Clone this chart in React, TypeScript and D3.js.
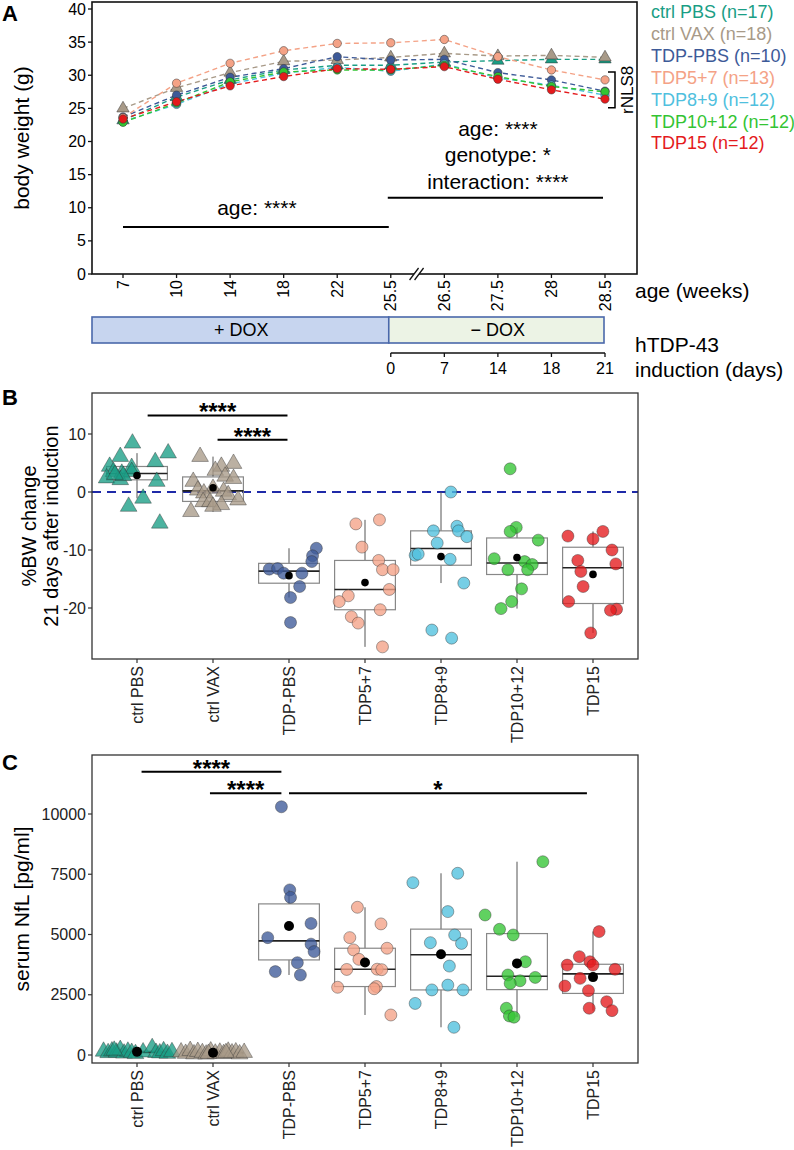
import React from 'react';
import * as d3 from 'd3';

// ---------- shared categories ----------
const groups = ['ctrl PBS', 'ctrl VAX', 'TDP-PBS', 'TDP5+7', 'TDP8+9', 'TDP10+12', 'TDP15'];
const groupN = [17, 18, 10, 13, 12, 12, 12];
const groupColors = ['#1a9e85', '#a89a88', '#3d5a98', '#f4a286', '#4fc0de', '#33c433', '#e41a1c'];
const groupShapes = ['triangle', 'triangle', 'circle', 'circle', 'circle', 'circle', 'circle'];

// ---------- panel A ----------
const weeks = ['7', '10', '14', '18', '22', '25.5', '26.5', '27.5', '28', '28.5'];
const yTicksA = [0, 5, 10, 15, 20, 25, 30, 35, 40];
const bwCtrlPBS = [23.2, 26.7, 29.3, 30.8, 31.5, 31.5, 32.0, 32.2, 32.4, 32.4];
const bwCtrlVAX = [25.0, 28.1, 30.4, 32.1, 32.3, 32.7, 33.3, 32.9, 33.0, 32.7];
const bwTdpPBS = [23.7, 27.0, 29.7, 31.0, 32.8, 32.3, 32.4, 30.4, 29.3, 27.6];
const bwTdp57 = [23.6, 28.8, 31.8, 33.7, 34.8, 34.9, 35.4, 32.8, 30.8, 29.3];
const bwTdp89 = [23.0, 25.6, 28.7, 30.3, 31.2, 30.6, 31.7, 29.6, 28.5, 27.0];
const bwTdp1012 = [22.9, 25.8, 29.0, 30.5, 30.8, 30.8, 31.5, 29.8, 28.3, 27.5];
const bwTdp15 = [23.4, 26.0, 28.4, 29.8, 31.0, 30.9, 31.3, 29.4, 27.8, 26.4];
const bwSeries = [bwCtrlPBS, bwCtrlVAX, bwTdpPBS, bwTdp57, bwTdp89, bwTdp1012, bwTdp15];
const drawOrderA = [0, 1, 2, 3, 4, 5, 6];
const inductionDays = ['0', '7', '14', '18', '21'];
const inductionWeeks = ['25.5', '26.5', '27.5', '28', '28.5'];
const annotLeftY = 7.1;
const annotRightY = 11.5;
const annotRightLines = ['age: ****', 'genotype: *', 'interaction: ****'];

// ---------- panel B: %BW change [value, jitter] ----------
const bwcCtrlPBS = [[8.4, -0.06], [6.7, 0.41], [6.1, -0.22], [5.2, 0.24], [4.2, -0.07], [4.4, -0.36], [3.5, -0.31], [3.2, -0.2], [3.5, -0.07], [2.4, -0.4], [2.1, -0.22], [1.8, 0.26], [2.8, -0.18], [-1.1, 0.08], [-2.5, -0.11], [-5.4, 0.3], [3.0, -0.29]];
const bwcCtrlVAX = [[6.1, -0.17], [4.9, 0.27], [4.4, 0.11], [3.7, 0.03], [2.7, 0.16], [2.3, 0.27], [1.8, -0.26], [0.6, 0.0], [0.3, -0.2], [0.1, 0.14], [-0.2, -0.12], [-0.5, 0.2], [-1.4, 0.33], [-1.7, -0.13], [-1.7, -0.04], [-2.2, 0.11], [-2.5, 0.0], [-3.4, -0.29]];
const bwcTdpPBS = [[-9.7, 0.36], [-11.0, 0.31], [-12.0, 0.3], [-13.3, -0.26], [-13.2, -0.15], [-14.0, -0.07], [-14.0, 0.17], [-16.3, 0.14], [-18.2, 0.02], [-22.5, 0.02]];
const bwcTdp57 = [[-5.5, -0.12], [-4.8, 0.19], [-9.5, -0.04], [-11.8, 0.18], [-13.4, 0.23], [-13.4, 0.37], [-16.8, 0.32], [-17.9, -0.22], [-18.9, -0.34], [-20.3, 0.2], [-21.5, -0.18], [-22.6, -0.09], [-26.7, 0.23]];
const bwcTdp89 = [[0.0, 0.13], [-6.7, -0.1], [-5.9, 0.21], [-6.7, 0.23], [-7.7, 0.34], [-10.9, -0.34], [-10.7, -0.3], [-11.6, 0.12], [-15.7, 0.3], [-23.8, -0.12], [-25.2, 0.14], [-8.8, -0.05]];
const bwcTdp1012 = [[4.0, -0.09], [-6.1, -0.01], [-6.8, -0.09], [-8.3, 0.28], [-11.5, -0.3], [-12.0, 0.1], [-12.5, 0.2], [-13.4, -0.12], [-13.4, 0.14], [-16.7, 0.06], [-18.9, -0.07], [-20.1, -0.21]];
const bwcTdp15 = [[-6.8, 0.13], [-7.6, -0.33], [-8.1, 0.0], [-10.0, 0.25], [-11.8, -0.2], [-12.4, 0.3], [-13.7, -0.16], [-16.3, -0.13], [-18.9, -0.32], [-20.2, 0.31], [-20.4, 0.23], [-24.3, -0.03]];
const bwcSeries = [bwcCtrlPBS, bwcCtrlVAX, bwcTdpPBS, bwcTdp57, bwcTdp89, bwcTdp1012, bwcTdp15];
const yTicksB = [-20, -10, 0, 10];
// [fromGroup, toGroup, y, label, dxFrom, dxTo]
const sigB = [
  [0, 2, 13.2, '****', 0.14, -0.02],
  [1, 2, 9.0, '****', 0.06, -0.02],
];

// ---------- panel C: serum NfL [value, jitter] ----------
const nflCtrlPBS = [[150, -0.44], [90, -0.38], [160, -0.33], [110, -0.27], [220, -0.22], [70, -0.17], [150, -0.12], [100, -0.07], [50, -0.02], [120, 0.08], [300, 0.2], [100, 0.25], [80, 0.3], [170, 0.35], [60, 0.4], [130, 0.46], [190, -0.3]];
const nflCtrlVAX = [[120, -0.42], [60, -0.36], [180, -0.3], [40, -0.25], [140, -0.2], [90, -0.14], [30, -0.09], [160, -0.03], [70, 0.03], [110, 0.09], [50, 0.14], [150, 0.2], [80, 0.25], [120, 0.3], [40, 0.35], [100, 0.41], [60, -0.06], [90, 0.17]];
const nflTdpPBS = [[10300, -0.1], [6850, 0.01], [6540, 0.02], [5460, 0.29], [4870, -0.28], [4600, 0.29], [4290, 0.33], [3830, 0.11], [3460, -0.18], [3320, 0.15]];
const nflTdp57 = [[6130, -0.1], [5440, 0.21], [4870, -0.2], [4430, 0.29], [4360, -0.15], [3970, -0.08], [3560, 0.16], [3550, -0.24], [3540, 0.22], [2840, 0.15], [2810, -0.36], [2750, 0.12], [1660, 0.34]];
const nflTdp89 = [[7540, 0.22], [7150, -0.37], [5950, 0.09], [4980, 0.18], [4660, -0.14], [4630, 0.27], [3690, 0.11], [2900, 0.09], [2700, -0.12], [2700, 0.29], [2140, -0.34], [1150, 0.17]];
const nflTdp1012 = [[8020, 0.34], [5810, -0.42], [5215, -0.23], [4980, -0.05], [3870, 0.11], [3320, -0.12], [3220, 0.24], [3080, 0.04], [2970, -0.09], [1940, -0.14], [1620, -0.1], [1570, -0.04]];
const nflTdp15 = [[5120, 0.08], [4080, -0.18], [3870, -0.04], [3730, -0.34], [3730, 0.0], [3555, 0.29], [3180, -0.17], [2860, -0.37], [2670, -0.06], [2210, 0.18], [1940, -0.05], [1840, 0.25]];
const nflSeries = [nflCtrlPBS, nflCtrlVAX, nflTdpPBS, nflTdp57, nflTdp89, nflTdp1012, nflTdp15];
const yTicksC = [0, 2500, 5000, 7500, 10000];
const sigC = [
  [0, 2, 11755, '****', 0.06, -0.1],
  [1, 2, 10859, '****', -0.04, -0.1],
  [2, 6, 10859, '*', 0.0, -0.08],
];

const FONT = 'Liberation Sans, Arial, Helvetica, sans-serif';

function boxStats(vals: number[]) {
  const s = [...vals].sort(d3.ascending);
  const q1 = d3.quantile(s, 0.25) as number;
  const med = d3.quantile(s, 0.5) as number;
  const q3 = d3.quantile(s, 0.75) as number;
  const iqr = q3 - q1;
  const lo = d3.min(s.filter((v) => v >= q1 - 1.5 * iqr)) as number;
  const hi = d3.max(s.filter((v) => v <= q3 + 1.5 * iqr)) as number;
  return { q1, med, q3, lo, hi, mean: d3.mean(s) as number };
}

const triPath = (size: number) => d3.symbol().type(d3.symbolTriangle).size(size)() as string;

function Marker({ shape, x, y, fill, r, triSize, opacity, strokeW }: any) {
  if (shape === 'triangle') {
    return (
      <path d={triPath(triSize)} transform={`translate(${x},${y})`} fill={fill} fillOpacity={opacity}
        stroke="#333" strokeOpacity={0.7} strokeWidth={strokeW} />
    );
  }
  return <circle cx={x} cy={y} r={r} fill={fill} fillOpacity={opacity} stroke="#333" strokeOpacity={0.7} strokeWidth={strokeW} />;
}

function DotBoxPanel({ series, yScale, xScale, top, bottom, left, right, yTicks, sig, tickFmt, meanR }: any) {
  const step = xScale.step();
  const bw = step * 0.8;
  return (
    <g>
      {series.map((pts: number[][], gi: number) => {
        const st = boxStats(pts.map((p) => p[0]));
        const cx = xScale(groups[gi]);
        return (
          <g key={'box' + gi}>
            <line x1={cx} x2={cx} y1={yScale(st.hi)} y2={yScale(st.q3)} stroke="#555" strokeWidth={1} />
            <line x1={cx} x2={cx} y1={yScale(st.q1)} y2={yScale(st.lo)} stroke="#555" strokeWidth={1} />
            <rect x={cx - bw / 2} y={yScale(st.q3)} width={bw} height={yScale(st.q1) - yScale(st.q3)} fill="none" stroke="#888" strokeWidth={1.2} />
            <line x1={cx - bw / 2} x2={cx + bw / 2} y1={yScale(st.med)} y2={yScale(st.med)} stroke="#222" strokeWidth={1.6} />
          </g>
        );
      })}
      {series.map((pts: number[][], gi: number) => {
        const cx = xScale(groups[gi]);
        return pts.map((p, i) => (
          <Marker key={'p' + gi + '-' + i} shape={groupShapes[gi]} x={cx + p[1] * step} y={yScale(p[0])}
            fill={groupColors[gi]} r={6} triSize={120} opacity={0.78} strokeW={0.6} />
        ));
      })}
      {series.map((pts: number[][], gi: number) => {
        const st = boxStats(pts.map((p) => p[0]));
        return <circle key={'m' + gi} cx={xScale(groups[gi])} cy={yScale(st.mean)} r={meanR} fill="#000" />;
      })}
      {sig.map((s: any, i: number) => {
        const x1 = xScale(groups[s[0]]) + s[4] * step;
        const x2 = xScale(groups[s[1]]) + s[5] * step;
        const y = yScale(s[2]);
        return (
          <g key={'sig' + i}>
            <line x1={x1} x2={x2} y1={y} y2={y} stroke="#000" strokeWidth={2} />
            <text x={(x1 + x2) / 2} y={y + 5} textAnchor="middle" fontSize={24} fontWeight="bold">{s[3]}</text>
          </g>
        );
      })}
      <rect x={left} y={top} width={right - left} height={bottom - top} fill="none" stroke="#333" strokeWidth={1.3} />
      {yTicks.map((t: number) => (
        <g key={'yt' + t}>
          <line x1={left - 4} x2={left} y1={yScale(t)} y2={yScale(t)} stroke="#333" strokeWidth={1.2} />
          <text x={left - 6} y={yScale(t)} dy="0.35em" textAnchor="end" fontSize={16} fill="#222">{tickFmt(t)}</text>
        </g>
      ))}
      {groups.map((g) => (
        <g key={'xt' + g}>
          <line x1={xScale(g)} x2={xScale(g)} y1={bottom} y2={bottom + 4} stroke="#333" strokeWidth={1.2} />
          <text transform={`translate(${xScale(g)},${bottom + 7}) rotate(-90)`} dy="0.35em" textAnchor="end" fontSize={16} fill="#222">{g}</text>
        </g>
      ))}
    </g>
  );
}

export default function App() {
  const aLeft = 92, aRight = 637, aTop = 2, aBottom = 274;
  const xA = d3.scalePoint<string>().domain(weeks).range([123, 605]);
  const yA = d3.scaleLinear().domain([0, 40]).range([274, 9]);
  const lineA = d3.line<number>().x((_, i) => xA(weeks[i]) as number).y((v) => yA(v));
  const breakX = ((xA('25.5') as number) + (xA('26.5') as number)) / 2 - 1;

  const xB = d3.scalePoint<string>().domain(groups).range([137, 593]);
  const yB = d3.scaleLinear().domain([-20, 10]).range([608, 434]);
  const yC = d3.scaleLinear().domain([0, 10000]).range([1055, 814]);

  const legendBase = 18;
  const legendStep = 21.9;

  return (
    <svg width={794} height={1150} style={{ position: 'absolute', left: 0, top: 0, background: '#fff' }} fontFamily={FONT}>
      <rect x={0} y={0} width={794} height={1150} fill="#fff" />
      {/* ================= PANEL A ================= */}
      <text x={2} y={21} fontSize={22} fontWeight="bold">A</text>
      {drawOrderA.map((gi) => (
        <path key={'la' + gi} d={lineA(bwSeries[gi]) as string} fill="none" stroke={groupColors[gi]} strokeWidth={1.4} strokeDasharray="5,3.5" />
      ))}
      {drawOrderA.map((gi) => bwSeries[gi].map((v, i) => (
        <Marker key={'pa' + gi + '-' + i} shape={groupShapes[gi]} x={xA(weeks[i])} y={yA(v)} fill={groupColors[gi]}
          r={4.2} triSize={66} opacity={1} strokeW={0.7} />
      )))}
      <line x1={xA('7')} x2={(xA('25.5') as number) - 2} y1={yA(annotLeftY)} y2={yA(annotLeftY)} stroke="#000" strokeWidth={2} />
      <text x={((xA('7') as number) + (xA('25.5') as number)) / 2} y={yA(annotLeftY) - 12} textAnchor="middle" fontSize={21}>age: ****</text>
      <line x1={(xA('25.5') as number) - 3} x2={(xA('28.5') as number) - 2} y1={yA(annotRightY)} y2={yA(annotRightY)} stroke="#000" strokeWidth={2} />
      {annotRightLines.map((t, i) => (
        <text key={t} x={((xA('25.5') as number) + (xA('28.5') as number)) / 2} y={yA(annotRightY) - 62 + i * 26.5} textAnchor="middle" fontSize={21}>{t}</text>
      ))}
      <path d={`M608,${yA(30.5)}H615V${yA(25.1)}H608`} fill="none" stroke="#000" strokeWidth={1.5} />
      <text transform={`translate(633,${yA(27.8)}) rotate(-90)`} textAnchor="middle" fontSize={17}>rNLS8</text>
      <rect x={aLeft} y={aTop} width={aRight - aLeft} height={aBottom - aTop} fill="none" stroke="#111" strokeWidth={1.6} />
      {yTicksA.map((t) => (
        <g key={'yta' + t}>
          <line x1={aLeft - 4} x2={aLeft} y1={yA(t)} y2={yA(t)} stroke="#111" strokeWidth={1.3} />
          <text x={aLeft - 6} y={yA(t)} dy="0.35em" textAnchor="end" fontSize={16}>{t}</text>
        </g>
      ))}
      <text transform={`translate(29,${(aTop + aBottom) / 2}) rotate(-90)`} textAnchor="middle" fontSize={21}>body weight (g)</text>
      {weeks.map((w) => (
        <g key={'xta' + w}>
          <line x1={xA(w)} x2={xA(w)} y1={aBottom} y2={aBottom + 4} stroke="#111" strokeWidth={1.3} />
          <text transform={`translate(${xA(w)},${aBottom + 6}) rotate(-90)`} dy="0.35em" textAnchor="end" fontSize={16}>{w}</text>
        </g>
      ))}
      <polygon points={`${breakX - 6},${aBottom + 5} ${breakX - 1},${aBottom + 5} ${breakX + 7},${aBottom - 6} ${breakX + 2},${aBottom - 6}`} fill="#fff" />
      <line x1={breakX - 7} y1={aBottom + 6} x2={breakX + 2} y2={aBottom - 6} stroke="#111" strokeWidth={1.3} />
      <line x1={breakX - 2} y1={aBottom + 6} x2={breakX + 7} y2={aBottom - 6} stroke="#111" strokeWidth={1.3} />
      <text x={635} y={298} fontSize={21}>age (weeks)</text>
      {groups.map((g, i) => (
        <text key={'lg' + g} x={651} y={legendBase + i * legendStep} fontSize={18} fill={groupColors[i]}>{`${g} (n=${groupN[i]})`}</text>
      ))}
      <rect x={aLeft} y={317} width={(xA('25.5') as number) - 2 - aLeft} height={26} fill="#c7d5ef" stroke="#4a68ab" strokeWidth={1.6} />
      <rect x={(xA('25.5') as number) - 2} y={317} width={(xA('28.5') as number) - (xA('25.5') as number) + 1} height={26} fill="#ecf3e5" stroke="#4a68ab" strokeWidth={1.6} />
      <text x={(aLeft + (xA('25.5') as number)) / 2} y={336} textAnchor="middle" fontSize={18}>+ DOX</text>
      <text x={((xA('25.5') as number) + (xA('28.5') as number)) / 2} y={336} textAnchor="middle" fontSize={18}>− DOX</text>
      <line x1={xA('25.5')} x2={xA('28.5')} y1={353} y2={353} stroke="#111" strokeWidth={1.5} />
      {inductionDays.map((d, i) => (
        <g key={'ind' + d}>
          <line x1={xA(inductionWeeks[i])} x2={xA(inductionWeeks[i])} y1={353} y2={357} stroke="#111" strokeWidth={1.3} />
          <text x={xA(inductionWeeks[i])} y={374} textAnchor="middle" fontSize={16}>{d}</text>
        </g>
      ))}
      <text x={635} y={352} fontSize={21}>hTDP-43</text>
      <text x={635} y={377} fontSize={21}>induction (days)</text>

      {/* ================= PANEL B ================= */}
      <text x={2} y={405} fontSize={22} fontWeight="bold">B</text>
      <line x1={92} x2={638} y1={yB(0)} y2={yB(0)} stroke="#1f2aa8" strokeWidth={2} strokeDasharray="9,6" />
      <DotBoxPanel series={bwcSeries} yScale={yB} xScale={xB} top={393} bottom={659} left={92} right={638}
        yTicks={yTicksB} sig={sigB} tickFmt={(t: number) => String(t)} meanR={3.8} />
      <text transform={`translate(36,${(393 + 659) / 2}) rotate(-90)`} textAnchor="middle" fontSize={20}>%BW change</text>
      <text transform={`translate(58,${(393 + 659) / 2}) rotate(-90)`} textAnchor="middle" fontSize={20}>21 days after induction</text>

      {/* ================= PANEL C ================= */}
      <text x={2} y={770} fontSize={22} fontWeight="bold">C</text>
      <DotBoxPanel series={nflSeries} yScale={yC} xScale={xB} top={755} bottom={1063} left={92} right={638}
        yTicks={yTicksC} sig={sigC} tickFmt={(t: number) => String(t)} meanR={5} />
      <text transform={`translate(29,${(755 + 1063) / 2}) rotate(-90)`} textAnchor="middle" fontSize={21}>serum NfL [pg/ml]</text>
    </svg>
  );
}
